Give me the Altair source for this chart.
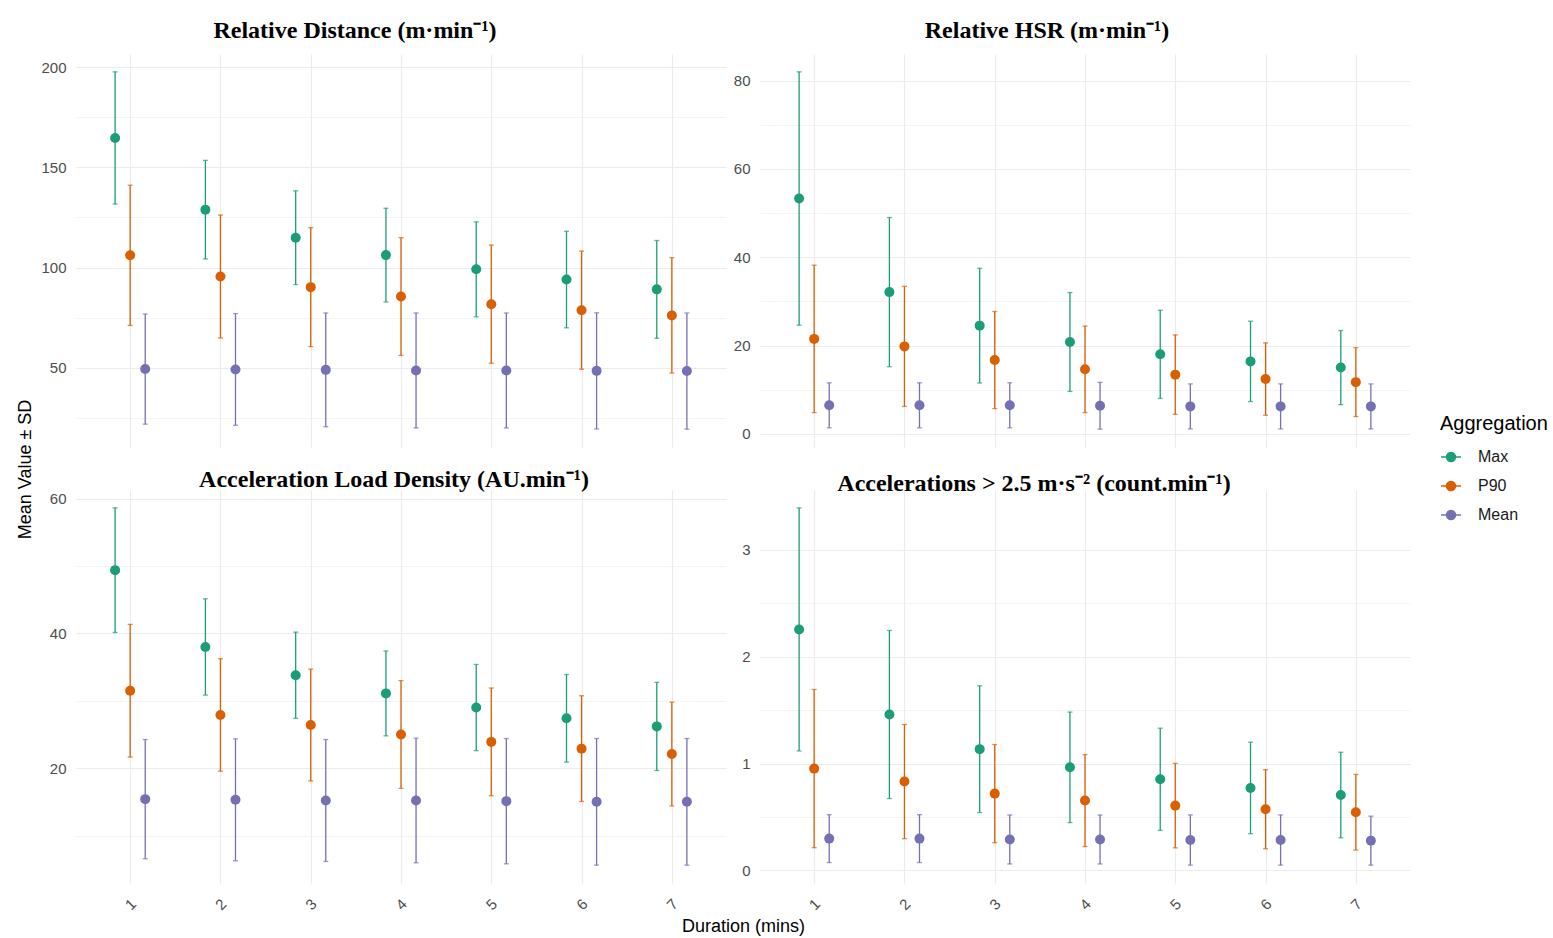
import altair as alt
import pandas as pd

durations = [1, 2, 3, 4, 5, 6, 7]
aggregations = ["Max", "P90", "Mean"]
agg_colors = ["#1B9E77", "#D95F02", "#7570B3"]

# Relative Distance (m/min): mean and SD per aggregation
dist_max = [164.7, 128.9, 114.9, 106.2, 99.1, 94.0, 89.1]
dist_max_sd = [33.0, 24.6, 23.4, 23.4, 23.7, 24.1, 24.4]
dist_p90 = [106.1, 95.5, 90.2, 85.5, 81.7, 78.7, 76.1]
dist_p90_sd = [35.0, 30.7, 29.7, 29.4, 29.5, 29.5, 28.8]
dist_mean = [49.3, 49.1, 48.9, 48.6, 48.6, 48.4, 48.3]
dist_mean_sd = [27.5, 27.9, 28.4, 28.7, 28.7, 29.0, 29.0]

# Relative HSR (m/min)
hsr_max = [53.3, 32.1, 24.5, 20.8, 18.0, 16.4, 15.0]
hsr_max_sd = [28.7, 16.9, 13.0, 11.2, 10.0, 9.1, 8.4]
hsr_p90 = [21.5, 19.8, 16.7, 14.6, 13.4, 12.4, 11.7]
hsr_p90_sd = [16.7, 13.6, 11.0, 9.8, 9.0, 8.2, 7.8]
hsr_mean = [6.45, 6.45, 6.45, 6.35, 6.2, 6.2, 6.2]
hsr_mean_sd = [5.1, 5.1, 5.1, 5.3, 5.1, 5.1, 5.1]

# Acceleration Load Density (AU/min)
ald_max = [49.4, 38.0, 33.8, 31.1, 29.0, 27.4, 26.2]
ald_max_sd = [9.25, 7.15, 6.4, 6.3, 6.4, 6.5, 6.55]
ald_p90 = [31.5, 27.9, 26.4, 25.0, 23.9, 22.9, 22.1]
ald_p90_sd = [9.85, 8.35, 8.3, 8.0, 8.0, 7.85, 7.7]
ald_mean = [15.4, 15.3, 15.2, 15.2, 15.1, 15.0, 15.0]
ald_mean_sd = [8.85, 9.05, 9.05, 9.25, 9.3, 9.4, 9.4]

# Accelerations > 2.5 m/s2 (count/min)
acc_max = [2.255, 1.459, 1.135, 0.965, 0.853, 0.772, 0.706]
acc_max_sd = [1.137, 0.786, 0.593, 0.517, 0.478, 0.428, 0.40]
acc_p90 = [0.953, 0.832, 0.719, 0.654, 0.607, 0.573, 0.545]
acc_p90_sd = [0.74, 0.534, 0.459, 0.43, 0.395, 0.37, 0.354]
acc_mean = [0.298, 0.298, 0.29, 0.29, 0.285, 0.285, 0.279]
acc_mean_sd = [0.224, 0.224, 0.229, 0.229, 0.235, 0.235, 0.229]

titles = [
    "Relative Distance (m\u00b7min\u207b\u00b9)",
    "Relative HSR (m\u00b7min\u207b\u00b9)",
    "Acceleration Load Density (AU.min\u207b\u00b9)",
    "Accelerations > 2.5 m\u00b7s\u207b\u00b2 (count.min\u207b\u00b9)",
]


def frame(series):
    rows = []
    for agg, (means, sds) in zip(aggregations, series):
        for d, m, s in zip(durations, means, sds):
            rows.append({"duration": d, "agg": agg, "mean": m, "sd": s})
    return pd.DataFrame(rows)


frames = [
    frame([(dist_max, dist_max_sd), (dist_p90, dist_p90_sd), (dist_mean, dist_mean_sd)]),
    frame([(hsr_max, hsr_max_sd), (hsr_p90, hsr_p90_sd), (hsr_mean, hsr_mean_sd)]),
    frame([(ald_max, ald_max_sd), (ald_p90, ald_p90_sd), (ald_mean, ald_mean_sd)]),
    frame([(acc_max, acc_max_sd), (acc_p90, acc_p90_sd), (acc_mean, acc_mean_sd)]),
]

LEGEND_PATH = "M-1,0L-0.45,0M0.45,0L1,0M0.45,0A0.45,0.45,0,1,1,-0.45,0A0.45,0.45,0,1,1,0.45,0Z"

FONT = "Liberation Sans"
GRID = "#EBEBEB"

LEGEND = alt.Legend(
    title="Aggregation", orient="none", legendX=1364, legendY=360,
    symbolType=LEGEND_PATH, symbolSize=400, symbolStrokeWidth=1.5,
    symbolOpacity=1, titleFontSize=20, titleFontWeight="normal",
    titleColor="#000000", titleFont=FONT, titlePadding=12,
    labelFontSize=16, labelColor="#1A1A1A", labelFont=FONT,
    labelOffset=16, rowPadding=10)


def panel(df, title, major, minor, show_x, title_offset, title_dx, ytitle=None, xtitle=None):
    lo = float((df["mean"] - df["sd"]).min())
    hi = float((df["mean"] + df["sd"]).max())
    pad = 0.05 * (hi - lo)
    ticks = sorted(set(major) | set(minor))
    major_test = " || ".join(f"abs(datum.value - {v}) < 1e-9" for v in major)

    xaxis_kw = dict(values=durations, grid=True, gridColor=GRID, gridWidth=1.1,
                    domain=False, ticks=False, title="")
    if show_x:
        xaxis_kw.update(labels=True, labelAngle=315, labelAlign="center",
                        labelBaseline="middle", labelPadding=21,
                        labelFontSize=15, labelColor="#4D4D4D", labelFont=FONT)
    else:
        xaxis_kw.update(labels=False)
    if xtitle:
        xaxis_kw.update(title=xtitle, titleX=667, titleY=43, titleAlign="center",
                        titleBaseline="middle", titleFontSize=18, titleFontWeight="normal",
                        titleColor="#000000", titleFont=FONT)

    yaxis_kw = dict(values=ticks, grid=True, gridColor=GRID, format=".0f",
                    gridWidth={"condition": {"test": major_test, "value": 1.1}, "value": 0.6},
                    labelExpr=f"({major_test}) ? datum.label : ''",
                    domain=False, ticks=False, labelPadding=10, labelFontSize=15,
                    labelColor="#4D4D4D", labelFont=FONT, title="")
    if ytitle:
        yaxis_kw.update(title=ytitle, titleX=-51, titleY=415, titleAngle=270,
                        titleAlign="center", titleBaseline="middle", titleFontSize=18,
                        titleFontWeight="normal", titleColor="#000000", titleFont=FONT)

    xs = alt.Scale(domain=[0.4, 7.6], nice=False, zero=False)
    ys = alt.Scale(domain=[lo - pad, hi + pad], nice=False, zero=False)
    col = alt.Scale(domain=aggregations, range=agg_colors)
    C = alt.Color("agg:N", scale=col, legend=LEGEND)

    base = alt.Chart(df).transform_calculate(
        xpos="datum.duration + (datum.agg === 'Max' ? -1/6 : (datum.agg === 'Mean' ? 1/6 : 0))",
        lo="datum.mean - datum.sd",
        hi="datum.mean + datum.sd",
    )
    X = alt.X("xpos:Q", scale=xs, axis=alt.Axis(**xaxis_kw))

    rules = base.mark_rule(strokeWidth=1.3).encode(
        x=X,
        y=alt.Y("lo:Q", scale=ys, axis=alt.Axis(**yaxis_kw)),
        y2="hi:Q",
        color=C,
    )
    cap_lo = base.mark_tick(orient="horizontal", size=5, thickness=1.3).encode(
        x=X, y=alt.Y("lo:Q", scale=ys, axis=alt.Axis(**yaxis_kw)), color=C,
    )
    cap_hi = base.mark_tick(orient="horizontal", size=5, thickness=1.3).encode(
        x=X, y=alt.Y("hi:Q", scale=ys, axis=alt.Axis(**yaxis_kw)), color=C,
    )
    pts = base.mark_circle(size=100, opacity=1).encode(
        x=X, y=alt.Y("mean:Q", scale=ys, axis=alt.Axis(**yaxis_kw)), color=C,
    )
    return alt.layer(rules, cap_lo, cap_hi, pts).properties(
        width=650, height=393,
        title=alt.TitleParams(title, font="Liberation Serif", fontSize=24,
                              fontWeight="bold", color="#000000", anchor="middle",
                              baseline="alphabetic", offset=title_offset, dx=title_dx),
    )


tl = panel(frames[0], titles[0], [50, 100, 150, 200], [25, 75, 125, 175], False, -8, -46,
           ytitle="Mean Value \u00b1 SD")
tr = panel(frames[1], titles[1], [0, 20, 40, 60, 80], [10, 30, 50, 70], False, -8, -38)
bl = panel(frames[2], titles[2], [20, 40, 60], [10, 30, 50], True, -21, -7,
           xtitle="Duration (mins)")
br = panel(frames[3], titles[3], [0, 1, 2, 3], [0.5, 1.5, 2.5], True, -25, -51)

chart = alt.concat(tl, tr, bl, br, columns=2, spacing={"row": 43, "column": 34},
                   bounds="flush").properties(
    padding={"left": 16, "top": 19, "right": 5, "bottom": 5},
    background="#FFFFFF",
).configure_view(stroke=None)

chart.save("out.html", embed_options={"renderer": "svg", "actions": False})
